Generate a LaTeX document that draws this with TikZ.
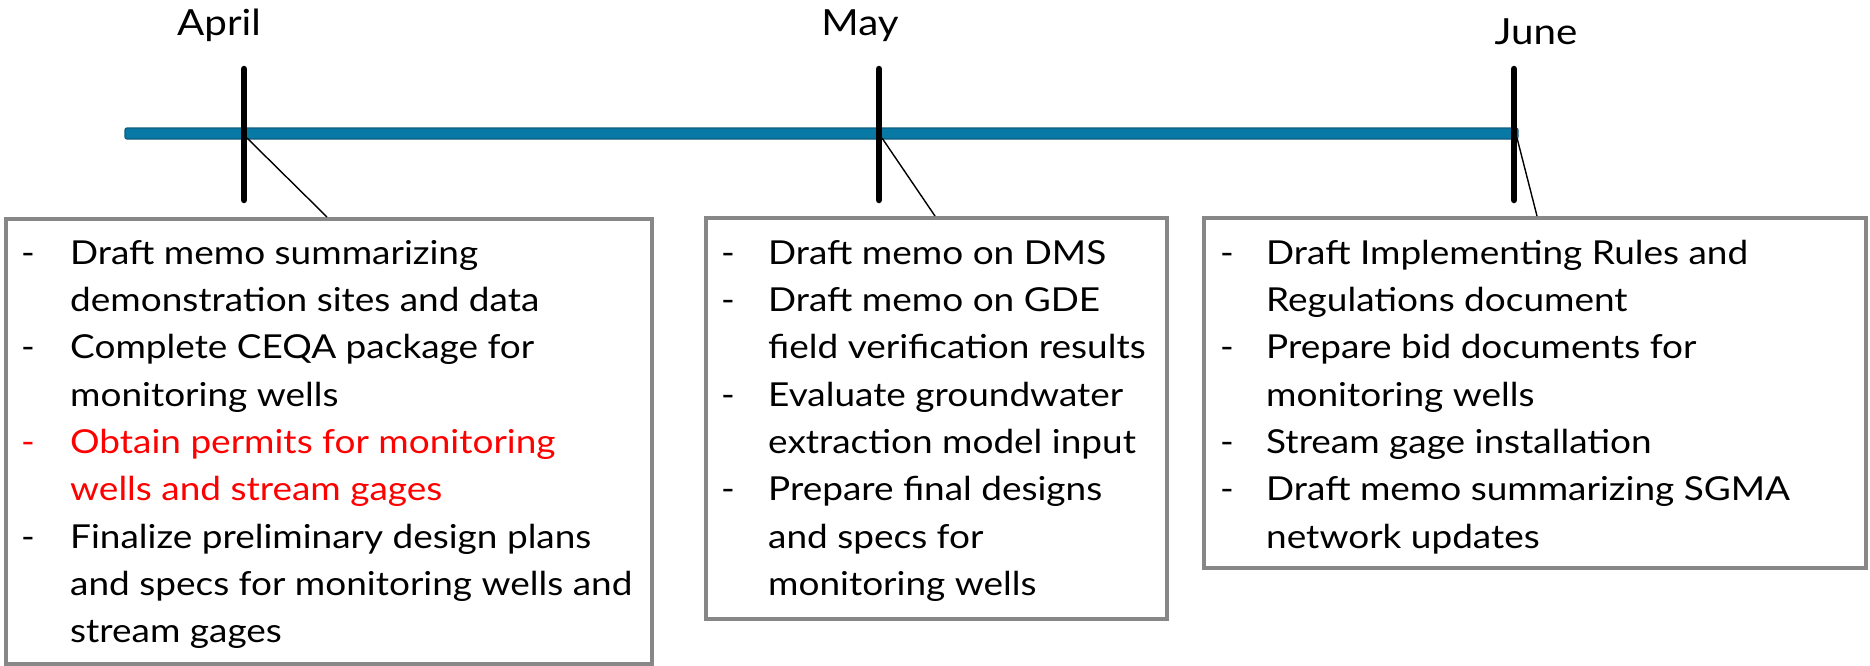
\documentclass[tikz,border=0pt]{standalone}
\usepackage{fontspec}
\setmainfont{Lato}[FakeStretch=1.12]
\usepackage{array}
\definecolor{boxgray}{HTML}{878787}
\definecolor{barfill}{HTML}{0878A4}
\definecolor{baredge}{HTML}{115C7E}
\definecolor{redtxt}{HTML}{FF0000}
\newcommand\bodyfont{\fontsize{33}{47.3}\selectfont}
\newcommand\monthfont{\fontsize{36}{40}\selectfont}
\tikzset{
  taskbox/.style={draw=boxgray, line width=3.5pt, fill=white, anchor=north west, inner sep=0pt},
  tasktext/.style={anchor=north west, inner sep=0pt, font=\bodyfont},
  monthlabel/.style={anchor=base, inner sep=0pt, font=\monthfont},
  tick/.style={line width=6.5pt, line cap=round, black},
  leader/.style={line width=1.4pt, black},
  bar/.style={fill=barfill, draw=baredge, line width=1.2pt, rounded corners=2pt}
}
\begin{document}
\begin{tikzpicture}[x=1pt,y=-1pt]
\useasboundingbox (0,0) rectangle (1870,665);
% timeline bar
\coordinate (barL) at (125,128);
\coordinate (barR) at (1518,139);
\draw[bar] (barL) rectangle (barR);
% ticks
\coordinate (aprT) at (244,69);  \coordinate (aprB) at (244,200);
\coordinate (mayT) at (879,69);  \coordinate (mayB) at (879,200);
\coordinate (junT) at (1514,69); \coordinate (junB) at (1514,200);
\coordinate (aprX) at (247,138);
\coordinate (mayX) at (882,138);
\coordinate (junX) at (1517,138);
\draw[tick] (aprT) -- (aprB);
\draw[tick] (mayT) -- (mayB);
\draw[tick] (junT) -- (junB);
% month labels
\node[monthlabel] (apr) at (219,35) {April};
\node[monthlabel] (may) at (860,35) {May};
\node[monthlabel] (jun) at (1536,44) {June};
% boxes
\node[taskbox, minimum width=646pt, minimum height=445pt] (b1) at (4,217) {};
\node[taskbox, minimum width=461pt, minimum height=401pt] (b2) at (704,216) {};
\node[taskbox, minimum width=662pt, minimum height=350pt] (b3) at (1202,216) {};
% leaders
\coordinate (c1) at (327,217);
\coordinate (c2) at (935,216);
\coordinate (c3) at (1537,216);
\draw[leader] (aprX) -- (c1);
\draw[leader] (mayX) -- (c2);
\draw[leader] (junX) -- (c3);
% texts
\node[tasktext] (t1) at (21,231) {\begin{tabular}{@{}p{49pt}@{}l@{}}
- & Draft memo summarizing\\
  & demonstration sites and data\\
- & Complete CEQA package for\\
  & monitoring wells\\
\textcolor{redtxt}{-} & \textcolor{redtxt}{Obtain permits for monitoring}\\
  & \textcolor{redtxt}{wells and stream gages}\\
- & Finalize preliminary design plans\\
  & and specs for monitoring wells and\\
  & stream gages
\end{tabular}};
\node[tasktext] (t2) at (721,231) {\begin{tabular}{@{}p{47pt}@{}l@{}}
- & Draft memo on DMS\\
- & Draft memo on GDE\\
  & field verification results\\
- & Evaluate groundwater\\
  & extraction model input\\
- & Prepare final designs\\
  & and specs for\\
  & monitoring wells
\end{tabular}};
\node[tasktext] (t3) at (1220,231) {\begin{tabular}{@{}p{46pt}@{}l@{}}
- & Draft Implementing Rules and\\
  & Regulations document\\
- & Prepare bid documents for\\
  & monitoring wells\\
- & Stream gage installation\\
- & Draft memo summarizing SGMA\\
  & network updates
\end{tabular}};
\end{tikzpicture}
\end{document}
